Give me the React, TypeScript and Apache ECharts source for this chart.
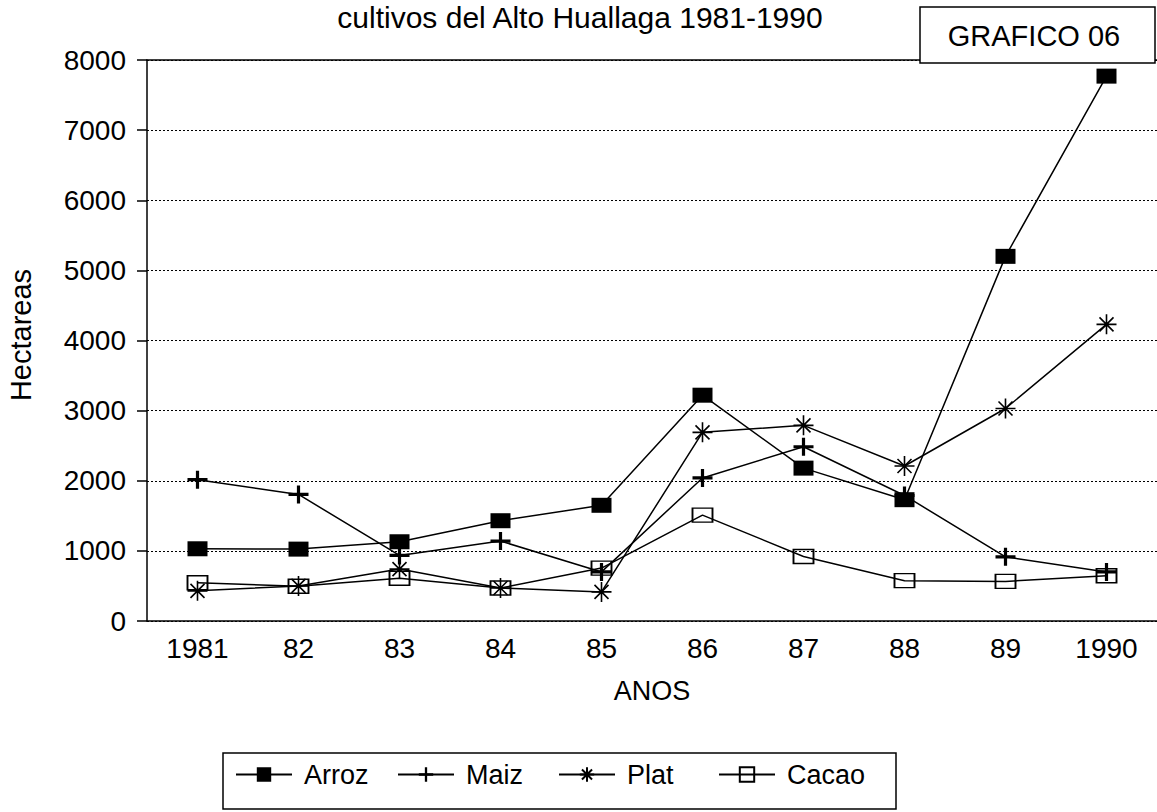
import React, { useEffect, useRef } from "react";
import * as echarts from "echarts";

const categories = ["1981", "82", "83", "84", "85", "86", "87", "88", "89", "1990"];
const arroz = [1030, 1025, 1130, 1430, 1650, 3220, 2180, 1730, 5200, 7770];
const maiz = [2015, 1805, 935, 1140, 700, 2040, 2485, 1790, 915, 700];
const plat = [430, 500, 740, 470, 415, 2690, 2790, 2210, 3030, 4230];
const cacao = [545, 495, 610, 470, 755, 1510, 920, 575, 565, 645];
const yTicks = { min: 0, max: 8000, interval: 1000 };

const FONT = '"Liberation Sans", Arial, sans-serif';
const PLUS =
  "path://M8.4,0 L11.6,0 L11.6,7.4 L20,7.4 L20,10.6 L11.6,10.6 L11.6,18 L8.4,18 L8.4,10.6 L0,10.6 L0,7.4 L8.4,7.4 Z";
const STAR = "path://M10,0 L10,20 M0,10 L20,10 M3,3 L17,17 M3,17 L17,3";

export default function App() {
  const ref = useRef<HTMLDivElement>(null);
  useEffect(() => {
    document.body.style.margin = "0";
    const chart = echarts.init(ref.current!, null, { renderer: "svg" });
    const line = { color: "#000", width: 1.5 };
    const mkLegend = (name: string, left: number) => ({
      data: [name],
      left,
      top: 761,
      padding: 0,
      itemWidth: 56,
      itemHeight: 18,
      textStyle: { fontSize: 27, fontFamily: FONT, color: "#000", padding: [0, 0, 0, 7] },
    });
    const centered = { align: "center", verticalAlign: "middle", textAlign: "center", textVerticalAlign: "middle" };
    chart.setOption({
      animation: false,
      backgroundColor: "#fff",
      textStyle: { fontFamily: FONT, color: "#000" },
      grid: { left: 147, right: 0, top: 60, bottom: 191, containLabel: false },
      legend: [
        mkLegend("Arroz", 235),
        mkLegend("Maiz", 397),
        mkLegend("Plat", 558),
        mkLegend("Cacao", 718),
      ],
      xAxis: [
        {
          type: "category",
          data: categories,
          boundaryGap: true,
          axisLine: { lineStyle: { color: "#000", width: 1.5 } },
          axisTick: { alignWithLabel: true, length: 9, lineStyle: { color: "#000", width: 1.5 } },
          axisLabel: { fontSize: 28, fontFamily: FONT, color: "#000", margin: 13 },
          name: "ANOS",
          nameLocation: "middle",
          nameGap: 56,
          nameTextStyle: { fontSize: 27, fontFamily: FONT, color: "#000" },
        },
        {
          type: "category",
          data: categories,
          position: "top",
          axisLine: { show: true, lineStyle: { color: "#000", width: 1.5 } },
          axisTick: { show: false },
          axisLabel: { show: false },
        },
      ],
      yAxis: {
        type: "value",
        min: yTicks.min,
        max: yTicks.max,
        interval: yTicks.interval,
        axisLine: { show: true, lineStyle: { color: "#000", width: 1.5 } },
        axisTick: { show: true, length: 10, lineStyle: { color: "#000", width: 1.5 } },
        axisLabel: {
          fontSize: 28,
          fontFamily: FONT,
          color: "#000",
          margin: 21,
          formatter: (v: number) => String(v),
        },
        splitLine: { show: true, lineStyle: { color: "#000", width: 1, type: [2, 2] } },
      },
      series: [
        {
          name: "Arroz",
          type: "line",
          data: arroz,
          symbol: "rect",
          symbolSize: [20, 15],
          itemStyle: { color: "#000" },
          lineStyle: line,
          z: 4,
        },
        {
          name: "Maiz",
          type: "line",
          data: maiz,
          symbol: PLUS,
          symbolSize: [20, 18],
          itemStyle: { color: "#000" },
          lineStyle: line,
          z: 3,
        },
        {
          name: "Plat",
          type: "line",
          data: plat,
          symbol: STAR,
          symbolSize: 20,
          itemStyle: { color: "rgba(0,0,0,0)", borderColor: "#000", borderWidth: 1.6 },
          lineStyle: line,
          z: 3,
        },
        {
          name: "Cacao",
          type: "line",
          data: cacao,
          symbol: "rect",
          symbolSize: [20, 14],
          itemStyle: { color: "rgba(0,0,0,0)", borderColor: "#000", borderWidth: 1.6 },
          lineStyle: line,
          z: 2,
        },
      ],
      graphic: [
        {
          type: "text",
          x: 580,
          y: 17,
          style: {
            text: "cultivos del Alto Huallaga 1981-1990",
            fontSize: 30,
            fontFamily: FONT,
            fill: "#000",
            ...centered,
          },
        },
        {
          type: "text",
          x: 21,
          y: 335,
          rotation: Math.PI / 2,
          style: {
            text: "Hectareas",
            fontSize: 29,
            fontFamily: FONT,
            fill: "#000",
            ...centered,
          },
        },
        {
          type: "rect",
          shape: { x: 920, y: 7, width: 235, height: 56 },
          style: { fill: "#fff", stroke: "#000", lineWidth: 1.5 },
          z: 100,
        },
        {
          type: "text",
          x: 1034,
          y: 36,
          z: 101,
          style: {
            text: "GRAFICO 06",
            fontSize: 29,
            fontFamily: FONT,
            fill: "#000",
            ...centered,
          },
        },
        {
          type: "rect",
          shape: { x: 223, y: 753, width: 673, height: 56 },
          style: { fill: "none", stroke: "#000", lineWidth: 1.5 },
          z: 100,
        },
      ],
    });
    return () => chart.dispose();
  }, []);
  return <div ref={ref} style={{ width: 1157, height: 812 }} />;
}
